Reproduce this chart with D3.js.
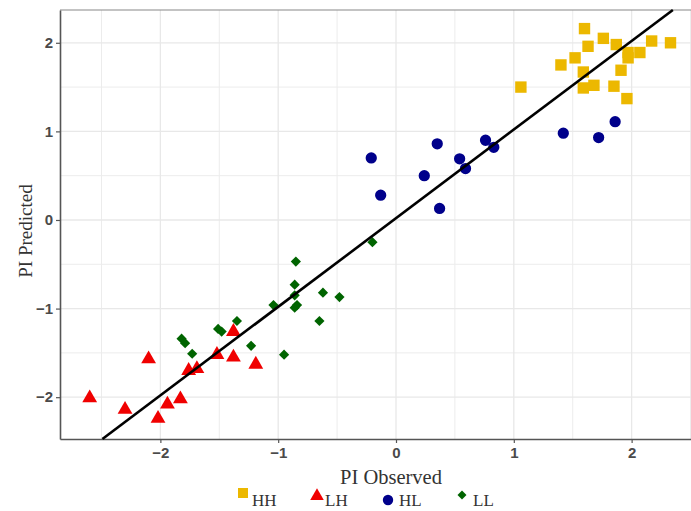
<!DOCTYPE html>
<html>
<head>
<meta charset="utf-8">
<script src="https://cdn.jsdelivr.net/npm/d3@7"></script>
<style>
  body { margin: 0; background: #fff; }
</style>
</head>
<body>
<div id="chart"></div>
<script>
// Series values
const hhX = [1.06, 1.60, 1.76, 1.63, 1.87, 1.52, 1.40, 1.97, 1.97, 2.07, 2.17, 2.33, 1.59, 1.91, 1.59, 1.68, 1.85, 1.96];
const hhY = [1.50, 2.16, 2.05, 1.96, 1.98, 1.83, 1.75, 1.89, 1.83, 1.89, 2.02, 2.00, 1.67, 1.69, 1.49, 1.52, 1.51, 1.37];

const lhX = [-2.60, -2.30, -2.10, -2.02, -1.94, -1.83, -1.76, -1.69, -1.52, -1.38, -1.19, -1.38];
const lhY = [-2.01, -2.14, -1.57, -2.24, -2.08, -2.02, -1.70, -1.68, -1.52, -1.55, -1.63, -1.26];

const hlX = [-0.21, -0.13, 0.35, 0.24, 0.37, 0.54, 0.59, 0.76, 0.83, 1.42, 1.72, 1.86];
const hlY = [0.70, 0.28, 0.86, 0.50, 0.13, 0.69, 0.58, 0.90, 0.82, 0.98, 0.93, 1.11];

const llX = [-0.85, -0.86, -0.86, -0.62, -0.48, -1.04, -0.86, -0.84, -0.65, -1.35, -1.51, -1.48, -1.82, -1.79, -1.73, -1.23, -0.95, -0.20];
const llY = [-0.47, -0.73, -0.85, -0.82, -0.87, -0.96, -0.99, -0.96, -1.14, -1.14, -1.23, -1.26, -1.34, -1.39, -1.51, -1.42, -1.52, -0.25];

const groups = ["HH", "LH", "HL", "LL"];
const xTicks = [-2, -1, 0, 1, 2];
const yTicks = [-2, -1, 0, 1, 2];

// fitted line (slope, intercept)
const fitSlope = 1.0;
const fitIntercept = 0.02;

const width = 691;
const height = 511;
const panel = { left: 60, top: 10, right: 691, bottom: 439 };

const svg = d3.select("#chart")
    .append("svg")
    .attr("width", width)
    .attr("height", height);

const x = d3.scaleLinear().domain([-2.852, 2.504]).range([panel.left, panel.right]);
const y = d3.scaleLinear().domain([-2.472, 2.370]).range([panel.bottom, panel.top]);

// Grid
const grid = svg.append("g");
const minorX = d3.range(-2.5, 2.51, 1);
const minorY = d3.range(-2.5, 2.51, 1);
grid.selectAll("line.mx").data(minorX.filter(v => x(v) >= panel.left && x(v) <= panel.right)).enter()
    .append("line")
    .attr("x1", d => x(d)).attr("x2", d => x(d))
    .attr("y1", panel.top).attr("y2", panel.bottom)
    .attr("stroke", "#ececec").attr("stroke-width", 1);
grid.selectAll("line.my").data(minorY.filter(v => y(v) >= panel.top && y(v) <= panel.bottom)).enter()
    .append("line")
    .attr("y1", d => y(d)).attr("y2", d => y(d))
    .attr("x1", panel.left).attr("x2", panel.right)
    .attr("stroke", "#ececec").attr("stroke-width", 1);
grid.selectAll("line.gx").data(xTicks).enter()
    .append("line")
    .attr("x1", d => x(d)).attr("x2", d => x(d))
    .attr("y1", panel.top).attr("y2", panel.bottom)
    .attr("stroke", "#e8e8e8").attr("stroke-width", 1.3);
grid.selectAll("line.gy").data(yTicks).enter()
    .append("line")
    .attr("y1", d => y(d)).attr("y2", d => y(d))
    .attr("x1", panel.left).attr("x2", panel.right)
    .attr("stroke", "#e8e8e8").attr("stroke-width", 1.3);

// top border
svg.append("line")
    .attr("x1", panel.left).attr("x2", panel.right)
    .attr("y1", panel.top).attr("y2", panel.top)
    .attr("stroke", "#888").attr("stroke-width", 1.2);

// Axes
const fmt = d3.format("d");
const xAxis = svg.append("g")
    .attr("transform", `translate(0,${panel.bottom})`)
    .call(d3.axisBottom(x).tickValues(xTicks).tickFormat(fmt).tickSize(4).tickPadding(4).tickSizeOuter(0));
const yAxis = svg.append("g")
    .attr("transform", `translate(${panel.left},0)`)
    .call(d3.axisLeft(y).tickValues(yTicks).tickFormat(fmt).tickSize(4).tickPadding(3).tickSizeOuter(0));

[xAxis, yAxis].forEach(a => {
    a.select(".domain").attr("stroke", "#555").attr("stroke-width", 1.6);
    a.selectAll(".tick line").attr("stroke", "#555").attr("stroke-width", 1.2);
    a.selectAll(".tick text")
        .attr("fill", "#4a4a4a")
        .style("font-family", "'Liberation Sans', Arial, sans-serif")
        .style("font-size", "15px")
        .style("font-weight", "bold");
});

// Points
const colors = { HH: "#ecb800", LH: "#f00000", HL: "#00008b", LL: "#006400" };
const symbols = {
    HH: d3.symbol().type(d3.symbolSquare).size(130),
    LH: d3.symbol().type(d3.symbolTriangle).size(95),
    HL: d3.symbol().type(d3.symbolCircle).size(100),
    LL: d3.symbol().type(d3.symbolSquare).size(52)
};
const rot = { HH: 0, LH: 0, HL: 0, LL: 45 };

const series = [
    { key: "HH", xs: hhX, ys: hhY },
    { key: "LH", xs: lhX, ys: lhY },
    { key: "HL", xs: hlX, ys: hlY },
    { key: "LL", xs: llX, ys: llY }
];

series.forEach(s => {
    const pts = s.xs.map((v, i) => [v, s.ys[i]]);
    svg.append("g").selectAll("path")
        .data(pts)
        .enter()
        .append("path")
        .attr("d", symbols[s.key]())
        .attr("transform", d => `translate(${x(d[0])},${y(d[1])}) rotate(${rot[s.key]})`)
        .attr("fill", colors[s.key]);
});

// Fitted line, clipped to panel
const yLo = y.domain()[0], yHi = y.domain()[1];
const xStart = (yLo - fitIntercept) / fitSlope;
const xEnd = (yHi - fitIntercept) / fitSlope;
svg.append("line")
    .attr("x1", x(xStart)).attr("y1", y(yLo))
    .attr("x2", x(xEnd)).attr("y2", y(yHi))
    .attr("stroke", "#000").attr("stroke-width", 2.6);

// Axis titles
svg.append("text")
    .attr("x", 391).attr("y", 484)
    .attr("text-anchor", "middle")
    .attr("fill", "#333")
    .style("font-family", "'Liberation Serif', 'Times New Roman', serif")
    .style("font-size", "20.5px")
    .text("PI Observed");
svg.append("text")
    .attr("transform", "translate(32,231) rotate(-90)")
    .attr("text-anchor", "middle")
    .attr("fill", "#333")
    .style("font-family", "'Liberation Serif', 'Times New Roman', serif")
    .style("font-size", "19px")
    .text("PI Predicted");

// Legend
const legendPos = [
    { sx: 243, sy: 493, tx: 252 },
    { sx: 317, sy: 496, tx: 325 },
    { sx: 388, sy: 500, tx: 399 },
    { sx: 462, sy: 495, tx: 473 }
];
const legendSym = {
    HH: d3.symbol().type(d3.symbolSquare).size(100),
    LH: d3.symbol().type(d3.symbolTriangle).size(80),
    HL: d3.symbol().type(d3.symbolCircle).size(85),
    LL: d3.symbol().type(d3.symbolSquare).size(40)
};
const legend = svg.append("g");
groups.forEach((g, i) => {
    const p = legendPos[i];
    legend.append("path")
        .attr("d", legendSym[g]())
        .attr("transform", `translate(${p.sx},${p.sy}) rotate(${rot[g]})`)
        .attr("fill", colors[g]);
    legend.append("text")
        .attr("x", p.tx).attr("y", 506)
        .attr("fill", "#333")
        .style("font-family", "'Liberation Serif', 'Times New Roman', serif")
        .style("font-size", "17px")
        .text(g);
});
</script>
</body>
</html>
